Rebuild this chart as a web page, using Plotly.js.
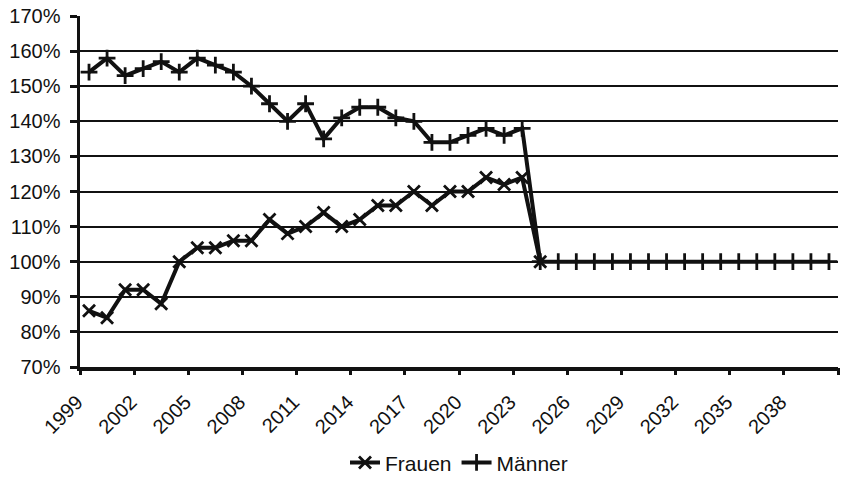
<!DOCTYPE html>
<html>
<head>
<meta charset="utf-8">
<script src="https://cdn.plot.ly/plotly-3.0.1.min.js"></script>
<style>
  html, body { margin: 0; padding: 0; background: #fff; }
  #chart { width: 847px; height: 481px; }
</style>
</head>
<body>
<div id="chart"></div>
<script>
// years on the category axis
let years = [1999, 2000, 2001, 2002, 2003, 2004, 2005, 2006, 2007, 2008,
             2009, 2010, 2011, 2012, 2013, 2014, 2015, 2016, 2017, 2018,
             2019, 2020, 2021, 2022, 2023, 2024, 2025, 2026, 2027, 2028,
             2029, 2030, 2031, 2032, 2033, 2034, 2035, 2036, 2037, 2038,
             2039, 2040];

// values in percent (Frauen stops at 2024, Männer carries the 100% line on)
let frauen = [86, 84, 92, 92, 88, 100, 104, 104, 106, 106,
              112, 108, 110, 114, 110, 112, 116, 116, 120, 116,
              120, 120, 124, 122, 124, 100];
let maenner = [154, 158, 153, 155, 157, 154, 158, 156, 154, 150,
               145, 140, 145, 135, 141, 144, 144, 141, 140, 134,
               134, 136, 138, 136, 138, 100, 100, 100, 100, 100,
               100, 100, 100, 100, 100, 100, 100, 100, 100, 100,
               100, 100];

// labelled years and tick marks between categories
let labelYears = [1999, 2002, 2005, 2008, 2011, 2014, 2017, 2020, 2023, 2026, 2029, 2032, 2035, 2038];
let tickBounds = [1998.5, 2001.5, 2004.5, 2007.5, 2010.5, 2013.5, 2016.5, 2019.5,
                  2022.5, 2025.5, 2028.5, 2031.5, 2034.5, 2037.5, 2040.5];

let font = "Liberation Sans, Arial, sans-serif";
let ink = "#111";

let traceF = {
    x: years.slice(0, frauen.length),
    y: frauen,
    name: "Frauen",
    type: "scatter",
    mode: "lines+markers",
    line: {color: ink, width: 4},
    marker: {symbol: "x-thin", size: 12, line: {color: ink, width: 2.8}}
};
let traceM = {
    x: years,
    y: maenner,
    name: "Männer",
    type: "scatter",
    mode: "lines+markers",
    line: {color: ink, width: 4},
    marker: {symbol: "cross-thin", size: 12, line: {color: ink, width: 2.8}}
};
// invisible helper so the boundary tick axis is drawn
let tickHelper = {
    x: [years[0]],
    y: [frauen[0]],
    xaxis: "x2",
    type: "scatter",
    mode: "markers",
    marker: {opacity: 0},
    showlegend: false,
    hoverinfo: "skip"
};

let layout = {
    width: 847,
    height: 481,
    margin: {l: 80, r: 9, t: 16, b: 114, autoexpand: false},
    paper_bgcolor: "#fff",
    plot_bgcolor: "#fff",
    font: {family: font, size: 20, color: ink},
    showlegend: true,
    legend: {
        orientation: "h",
        x: 0.5, xanchor: "center",
        y: -0.273, yanchor: "middle",
        font: {family: font, size: 21, color: ink},
        traceorder: "normal",
        itemwidth: 30
    },
    xaxis: {
        type: "linear",
        range: [1998.5, 2040.5],
        tickmode: "array",
        tickvals: labelYears,
        ticktext: labelYears.map(String),
        tickangle: -45,
        ticks: "",
        ticklabelstandoff: 12,
        ticklabelshift: -12,
        tickfont: {family: font, size: 20, color: ink},
        showgrid: false,
        zeroline: false,
        showline: true,
        linecolor: ink,
        linewidth: 3.5
    },
    xaxis2: {
        type: "linear",
        overlaying: "x",
        anchor: "y",
        side: "bottom",
        range: [1998.5, 2040.5],
        tickmode: "array",
        tickvals: tickBounds,
        ticks: "outside",
        ticklen: 7,
        tickwidth: 3,
        tickcolor: ink,
        showticklabels: false,
        showgrid: false,
        zeroline: false,
        showline: false
    },
    yaxis: {
        range: [70, 170],
        tickmode: "linear",
        tick0: 70,
        dtick: 10,
        ticksuffix: "%",
        ticks: "outside",
        ticklen: 7,
        tickwidth: 3,
        tickcolor: ink,
        ticklabelstandoff: 5,
        tickfont: {family: font, size: 20, color: ink},
        showgrid: true,
        gridcolor: ink,
        gridwidth: 2,
        zeroline: false,
        showline: true,
        linecolor: ink,
        linewidth: 3.5
    }
};

Plotly.newPlot("chart", [traceF, traceM, tickHelper], layout, {displayModeBar: false, staticPlot: true});
</script>
</body>
</html>
